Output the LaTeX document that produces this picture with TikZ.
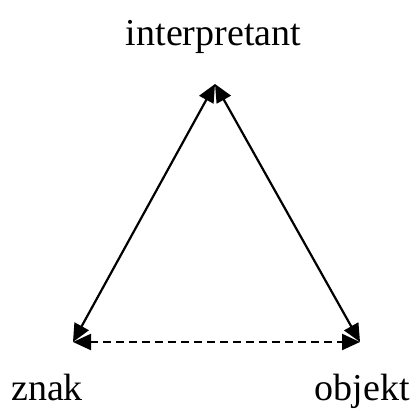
\documentclass[tikz,border=0pt]{standalone}
\usepackage{fontspec}
\setmainfont{Liberation Serif}
\usetikzlibrary{arrows.meta}
\begin{document}
\begin{tikzpicture}[x=1pt,y=-1pt,
  lbl/.style={font=\fontsize{38}{42}\selectfont, inner sep=0pt},
  conn/.style={line width=2.2pt, {Triangle[length=18pt,width=16pt]}-{Triangle[length=18pt,width=16pt]}},
  dconn/.style={conn, dash pattern=on 8pt off 5pt}]
\useasboundingbox (0,0) rectangle (419,410);
\coordinate (top) at (215,84);
\coordinate (bl) at (73,342);
\coordinate (br) at (360,342);
\node[lbl, anchor=base] (interp) at (213.5,45) {interpretant};
\node[lbl, anchor=base west] (znak) at (11,400) {znak};
\node[lbl, anchor=base east] (obj) at (410,400) {objekt};
\draw[conn] (bl) -- (top);
\draw[conn] (br) -- (top);
\draw[dconn] (bl) -- (br);
\end{tikzpicture}
\end{document}
